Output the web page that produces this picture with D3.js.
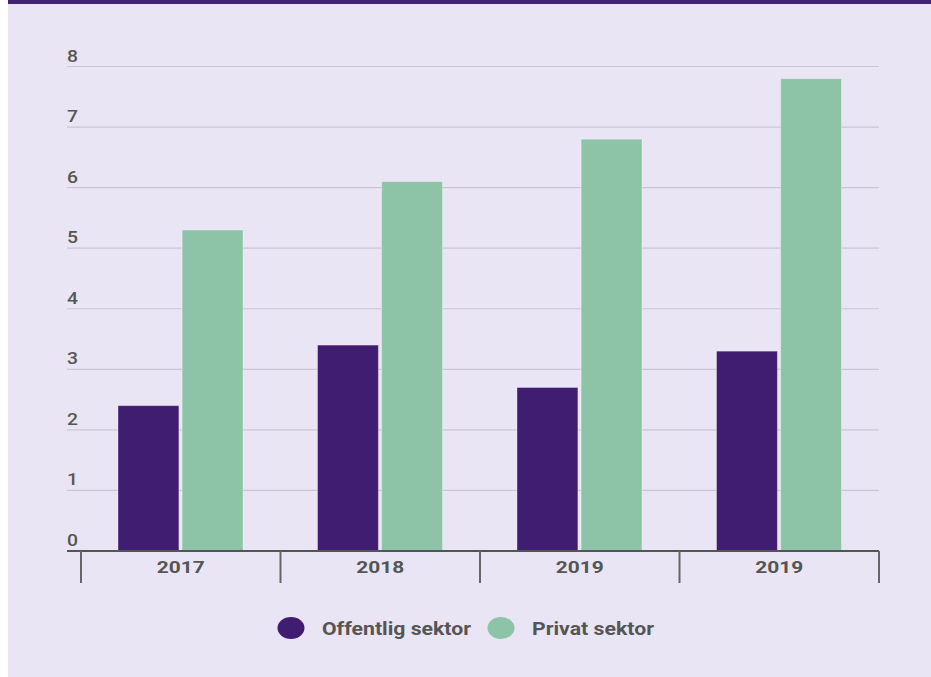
<!DOCTYPE html>
<html>
<head>
<meta charset="utf-8">
<script src="https://cdn.jsdelivr.net/npm/d3@7"></script>
<style>
  html, body { margin: 0; padding: 0; background: #ffffff; }
  #chart { width: 931px; height: 677px; }
  text { font-family: Roboto, "Noto Sans", sans-serif; }
</style>
</head>
<body>
<div id="chart"></div>
<script>
// data
var years = ["2017", "2018", "2019", "2019"];
var series = ["Offentlig sektor", "Privat sektor"];
var offentlig = [2.4, 3.4, 2.7, 3.3];
var privat = [5.3, 6.1, 6.8, 7.8];
var yTicks = [0, 1, 2, 3, 4, 5, 6, 7, 8];
var colors = ["#401d70", "#8dc3a7"];

var W = 931, H = 677;
var svg = d3.select("#chart").append("svg")
    .attr("width", W)
    .attr("height", H);

// bakgrunn
svg.append("rect").attr("x", 8).attr("y", 0).attr("width", W - 8).attr("height", H).attr("fill", "#e9e5f4");
svg.append("rect").attr("x", 8).attr("y", 0).attr("width", W - 8).attr("height", 4).attr("fill", "#3f2370");

// skalaer
var y = d3.scaleLinear().domain([0, 8]).range([551, 66.5]);
var x = d3.scaleBand().domain(d3.range(years.length)).range([81, 879]);
var x1 = d3.scaleBand().domain(series).range([37, 162]).paddingInner(0.05);

// rutenett
svg.append("g").selectAll("line")
    .data(yTicks.filter(d => d > 0))
    .enter().append("line")
    .attr("x1", 67).attr("x2", 879)
    .attr("y1", d => y(d)).attr("y2", d => y(d))
    .attr("stroke", "#cbc6d6")
    .attr("stroke-width", 1.2);

// y-etiketter
svg.append("g").selectAll("text")
    .data(yTicks)
    .enter().append("text")
    .attr("x", 67)
    .attr("y", d => y(d) - 5)
    .attr("font-size", 17)
    .attr("font-weight", 500)
    .attr("fill", "#555")
    .attr("textLength", 11)
    .attr("lengthAdjust", "spacingAndGlyphs")
    .text(d => d);

// søyler
var rows = years.map((yr, i) => ({ i: i, values: [offentlig[i], privat[i]] }));
var groups = svg.append("g").selectAll("g")
    .data(rows)
    .enter().append("g")
    .attr("transform", d => "translate(" + x(d.i) + ",0)");

groups.selectAll("rect")
    .data(d => d.values.map((v, k) => ({ key: series[k], value: v, k: k })))
    .enter().append("rect")
    .attr("x", d => x1(d.key))
    .attr("width", x1.bandwidth())
    .attr("y", d => y(d.value))
    .attr("height", d => y(0) - y(d.value))
    .attr("fill", d => colors[d.k])
    .attr("stroke", "rgba(255,255,255,0.35)")
    .attr("stroke-width", 1);

// x-akse
svg.append("line")
    .attr("x1", 67).attr("x2", 879)
    .attr("y1", y(0)).attr("y2", y(0))
    .attr("stroke", "#555").attr("stroke-width", 2);

var bounds = d3.range(years.length).map(i => x(i)).concat([x.range()[1]]);
svg.append("g").selectAll("line")
    .data(bounds)
    .enter().append("line")
    .attr("x1", d => d).attr("x2", d => d)
    .attr("y1", y(0)).attr("y2", 583)
    .attr("stroke", "#666").attr("stroke-width", 2);

svg.append("g").selectAll("text")
    .data(years)
    .enter().append("text")
    .attr("x", (d, i) => x(i) + x.bandwidth() / 2)
    .attr("y", 573)
    .attr("text-anchor", "middle")
    .attr("font-size", 17)
    .attr("font-weight", 700)
    .attr("fill", "#555")
    .attr("textLength", 48)
    .attr("lengthAdjust", "spacingAndGlyphs")
    .text(d => d);

// tegnforklaring
var legendX = [291, 501];
var legendW = [149, 122];
var legend = svg.append("g").selectAll("g")
    .data(series)
    .enter().append("g")
    .attr("transform", (d, i) => "translate(" + legendX[i] + ",628)");
legend.append("ellipse")
    .attr("rx", 13.5).attr("ry", 11)
    .attr("fill", (d, i) => colors[i]);
legend.append("text")
    .attr("x", 31)
    .attr("y", 6.5)
    .attr("font-size", 19)
    .attr("font-weight", 700)
    .attr("fill", "#555")
    .attr("textLength", (d, i) => legendW[i])
    .attr("lengthAdjust", "spacingAndGlyphs")
    .text(d => d);
</script>
</body>
</html>
